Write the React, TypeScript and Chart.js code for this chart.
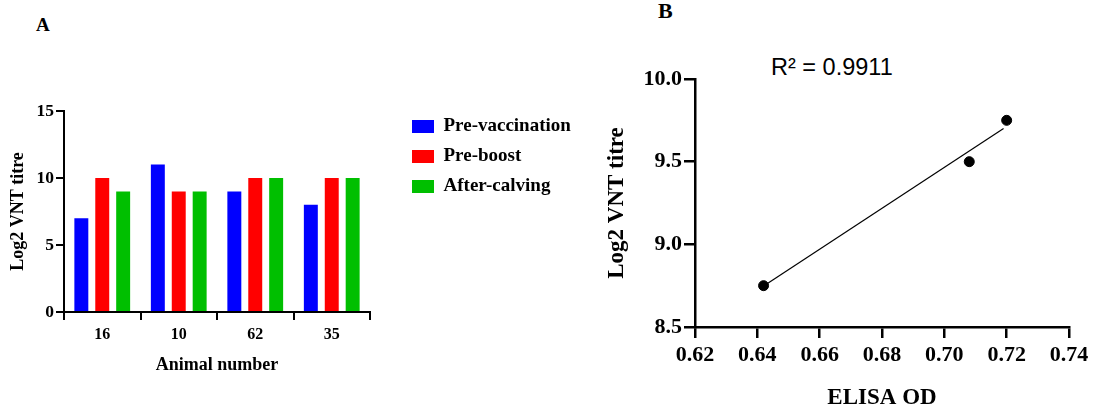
import React, { useEffect, useRef } from "react";
import { Chart, registerables } from "chart.js";

Chart.register(...registerables);

// ---------- Panel A data ----------
const animalNumbers = ["16", "10", "62", "35"];
const preVaccination = [7, 11, 9, 8];
const preBoost = [10, 9, 10, 10];
const afterCalving = [9, 9, 10, 10];
const yTicksA = [0, 5, 10, 15];

// ---------- Panel B data ----------
const elisaOD = [0.642, 0.708, 0.72];
const vntTitre = [8.75, 9.5, 9.75];
const fitLineX = [0.643, 0.719];
const fitLineY = [8.76, 9.7];
const xTicksB = [0.62, 0.64, 0.66, 0.68, 0.7, 0.72, 0.74];
const yTicksB = [8.5, 9.0, 9.5, 10.0];
const rSquaredLabel = "R² = 0.9911";

const serif = '"Liberation Serif", "Times New Roman", serif';
const sans = '"Liberation Sans", Arial, sans-serif';

function PanelA() {
  const ref = useRef<HTMLCanvasElement | null>(null);
  useEffect(() => {
    if (!ref.current) return;
    const moveLegend = {
      id: "moveLegend",
      afterLayout(chart: any) {
        const lg = chart.legend;
        if (!lg) return;
        const w = lg.width;
        const h = lg.height;
        lg.left = 401;
        lg.right = 401 + w;
        lg.top = 11;
        lg.bottom = 11 + h;
      },
    };
    const chart = new Chart(ref.current, {
      type: "bar",
      data: {
        labels: animalNumbers,
        datasets: [
          { label: "Pre-vaccination", data: preVaccination, backgroundColor: "#0000FF", yAxisID: "y" },
          { label: "Pre-boost", data: preBoost, backgroundColor: "#FF0000", yAxisID: "y" },
          { label: "After-calving", data: afterCalving, backgroundColor: "#00BF00", yAxisID: "y" },
        ],
      },
      options: {
        responsive: false,
        animation: false,
        datasets: { bar: { categoryPercentage: 0.82, barPercentage: 0.667 } },
        layout: { padding: { top: 16, left: 0, right: 0, bottom: 0 } },
        plugins: {
          legend: {
            position: "right",
            align: "start",
            maxWidth: 230,
            labels: {
              boxWidth: 22,
              boxHeight: 13,
              padding: 11,
              color: "#000",
              font: { family: serif, size: 19, weight: "bold" },
            },
          },
          tooltip: { enabled: false },
        },
        scales: {
          x: {
            grid: { display: true, drawOnChartArea: false, drawTicks: true, tickLength: 8, color: "#000", lineWidth: 2 },
            border: { display: true, color: "#000", width: 2 },
            ticks: { color: "#000", padding: 5, font: { family: serif, size: 16, weight: "bold" } },
            title: {
              display: true,
              text: "Animal number",
              color: "#000",
              font: { family: serif, size: 18, weight: "bold" },
              padding: { top: 4, bottom: 9 },
            },
            afterFit: (s: any) => {
              s.height = 73;
            },
          },
          y: {
            min: 0,
            max: 15,
            afterBuildTicks: (s: any) => {
              s.ticks = yTicksA.map((v) => ({ value: v }));
            },
            grid: { display: true, drawOnChartArea: false, drawTicks: true, tickLength: 8, color: "#000", lineWidth: 2 },
            border: { display: true, color: "#000", width: 2 },
            ticks: { color: "#000", padding: 2, font: { family: serif, size: 17.5, weight: "bold" } },
            title: {
              display: true,
              text: "Log2 VNT titre",
              color: "#000",
              font: { family: serif, size: 18, weight: "bold" },
              padding: { top: 8, bottom: 0 },
            },
            afterFit: (s: any) => {
              s.width = 64;
            },
          },
          spacer: {
            type: "linear",
            position: "right",
            display: true,
            grid: { display: false },
            border: { display: false },
            ticks: { display: false },
            afterFit: (s: any) => {
              const lw = s.chart.legend ? s.chart.legend.width : 0;
              s.width = Math.max(0, s.chart.width - lw - 370);
            },
          },
        },
      } as any,
      plugins: [moveLegend],
    });
    return () => chart.destroy();
  }, []);
  return (
    <canvas
      ref={ref}
      width={600}
      height={290}
      style={{ position: "absolute", left: 0, top: 95, width: 600, height: 290, display: "block" }}
    />
  );
}

function PanelB() {
  const ref = useRef<HTMLCanvasElement | null>(null);
  useEffect(() => {
    if (!ref.current) return;
    const chart = new Chart(ref.current, {
      type: "scatter",
      data: {
        datasets: [
          {
            type: "scatter",
            label: "Samples",
            data: elisaOD.map((x, i) => ({ x, y: vntTitre[i] })),
            backgroundColor: "#000",
            borderColor: "#000",
            pointRadius: 5,
            pointHoverRadius: 5,
          },
          {
            type: "line",
            label: "Fit",
            data: fitLineX.map((x, i) => ({ x, y: fitLineY[i] })),
            borderColor: "#000",
            borderWidth: 1.2,
            pointRadius: 0,
            fill: false,
          },
        ],
      },
      options: {
        responsive: false,
        animation: false,
        layout: { padding: { top: 19, right: 25, left: 0, bottom: 0 } },
        plugins: { legend: { display: false }, tooltip: { enabled: false } },
        scales: {
          x: {
            type: "linear",
            min: 0.62,
            max: 0.74,
            afterBuildTicks: (s: any) => {
              s.ticks = xTicksB.map((v) => ({ value: v }));
            },
            grid: { display: true, drawOnChartArea: false, drawTicks: true, tickLength: 11, color: "#000", lineWidth: 2.5 },
            border: { display: true, color: "#000", width: 2.5 },
            ticks: {
              color: "#000",
              padding: 4,
              maxRotation: 0,
              font: { family: serif, size: 22, weight: "bold" },
              callback: (v: any) => Number(v).toFixed(2),
            },
            title: {
              display: true,
              text: "ELISA OD",
              color: "#000",
              font: { family: serif, size: 23, weight: "bold", lineHeight: 1 },
              padding: { top: 4, bottom: -3 },
            },
            afterFit: (s: any) => {
              s.height = 80;
            },
          },
          y: {
            type: "linear",
            min: 8.5,
            max: 10,
            afterBuildTicks: (s: any) => {
              s.ticks = yTicksB.map((v) => ({ value: v }));
            },
            grid: { display: true, drawOnChartArea: false, drawTicks: true, tickLength: 11, color: "#000", lineWidth: 2.5 },
            border: { display: true, color: "#000", width: 2.5 },
            ticks: {
              color: "#000",
              padding: 2,
              font: { family: serif, size: 22, weight: "bold" },
              callback: (v: any) => Number(v).toFixed(1),
            },
            title: {
              display: true,
              text: "Log2 VNT titre",
              color: "#000",
              font: { family: serif, size: 23, weight: "bold" },
              padding: { top: 3, bottom: 0 },
            },
            afterFit: (s: any) => {
              s.width = 95;
            },
          },
        },
      } as any,
    });
    return () => chart.destroy();
  }, []);
  return (
    <canvas
      ref={ref}
      width={494}
      height={347}
      style={{ position: "absolute", left: 600, top: 60, width: 494, height: 347, display: "block" }}
    />
  );
}

export default function App() {
  return (
    <div
      style={{
        position: "absolute",
        left: 0,
        top: 0,
        width: 1094,
        height: 407,
        background: "#fff",
        overflow: "hidden",
      }}
    >
      <div
        style={{
          position: "absolute",
          left: 36,
          top: 15,
          fontFamily: serif,
          fontWeight: "bold",
          fontSize: 19,
          lineHeight: 1,
          color: "#000",
        }}
      >
        A
      </div>
      <div
        style={{
          position: "absolute",
          left: 658,
          top: 0,
          fontFamily: serif,
          fontWeight: "bold",
          fontSize: 22,
          lineHeight: 1,
          color: "#000",
        }}
      >
        B
      </div>
      <div
        style={{
          position: "absolute",
          left: 771,
          top: 56,
          fontFamily: sans,
          fontSize: 23.5,
          lineHeight: 1,
          color: "#000",
          whiteSpace: "nowrap",
        }}
      >
        {rSquaredLabel}
      </div>
      <PanelA />
      <PanelB />
    </div>
  );
}
